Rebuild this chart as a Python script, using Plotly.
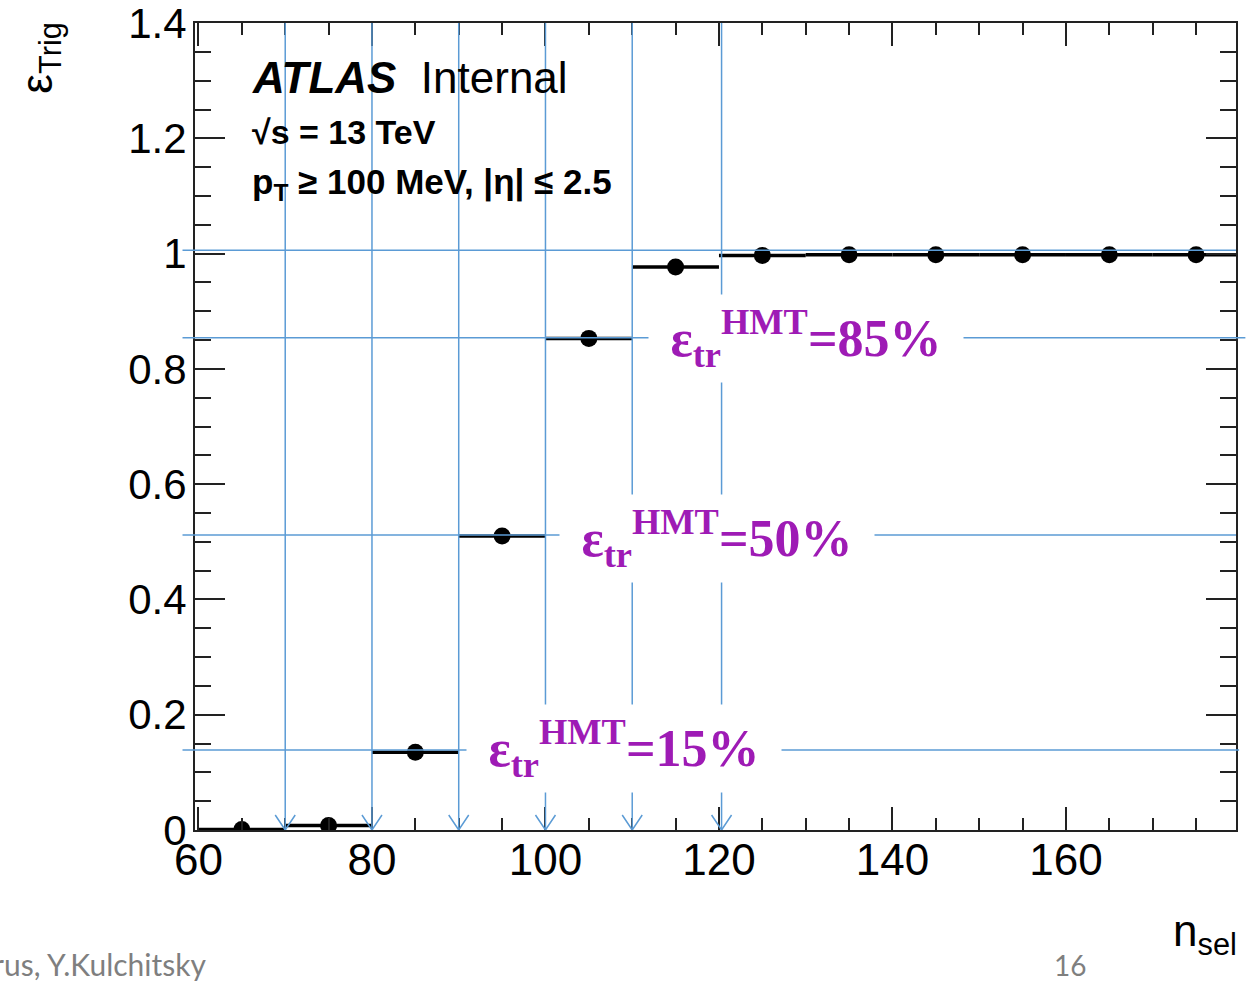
import plotly.graph_objects as go

# ---- data ----
bin_centers = [65, 75, 85, 95, 105, 115, 125, 135, 145, 155, 165, 175]
efficiency = [0.001, 0.008, 0.135, 0.510, 0.853, 0.977, 0.997, 0.998, 0.998, 0.998, 0.998, 0.998]
bin_half_width = [5] * len(bin_centers)

vline_x = [70, 80, 90, 100, 110, 120.3]
hline_levels = [1.006, 0.854, 0.512, 0.139]
hline_right = [1.0, 1.009, 1.0, 1.003]

label_pct = [85, 50, 15]
label_x = [130, 119.8, 109.1]
label_y = [0.853, 0.506, 0.141]

x_tick_vals = [60, 80, 100, 120, 140, 160]
x_tick_text = ["60", "80", "100", "120", "140", "160"]
y_tick_vals = [0, 0.2, 0.4, 0.6, 0.8, 1.0, 1.2, 1.4]
y_tick_text = ["0", "0.2", "0.4", "0.6", "0.8", "1", "1.2", "1.4"]

BLUE = "#5B9BD5"
PURPLE = "#9E1BB5"
SANS = "Liberation Sans, Arial, Helvetica, sans-serif"

fig = go.Figure()
fig.add_trace(go.Scatter(
    x=bin_centers, y=efficiency, mode="markers",
    marker=dict(color="black", size=17),
    error_x=dict(type="data", array=bin_half_width, color="black", thickness=3.5, width=0),
    showlegend=False, hoverinfo="skip",
))

shapes = []
for xv in vline_x:
    shapes.append(dict(type="line", xref="x", yref="y", x0=xv, x1=xv, y0=0, y1=1.4,
                       line=dict(color=BLUE, width=1.5), layer="above"))
    shapes.append(dict(type="path", xref="x", yref="y", xsizemode="pixel", ysizemode="pixel",
                       xanchor=xv, yanchor=0, path="M-10,15 L0,0 L10,15",
                       line=dict(color=BLUE, width=1.5), layer="above"))
for lv, rr in zip(hline_levels, hline_right):
    shapes.append(dict(type="line", xref="paper", yref="y", x0=-0.012, x1=rr, y0=lv, y1=lv,
                       line=dict(color=BLUE, width=1.5), layer="above"))

annotations = []
for pct, lx, ly in zip(label_pct, label_x, label_y):
    annotations.append(dict(
        x=lx, y=ly, xref="x", yref="y", xanchor="center", yanchor="middle",
        text=f"<b>ε<sub>tr</sub><sup>HMT</sup>={pct}%</b>", showarrow=False,
        font=dict(family="Liberation Serif, Times New Roman, serif", size=52, color=PURPLE),
        bgcolor="white", borderpad=0, width=314, height=87, align="center", valign="middle",
    ))

annotations += [
    dict(x=0.0528, y=0.932, xref="paper", yref="paper", xanchor="left", yanchor="middle",
         text="<b><i>ATLAS</i></b>&nbsp; Internal", showarrow=False,
         font=dict(family=SANS, size=44, color="black")),
    dict(x=0.0528, y=0.865, xref="paper", yref="paper", xanchor="left", yanchor="middle",
         text="<b>√s = 13 TeV</b>", showarrow=False,
         font=dict(family=SANS, size=34, color="black")),
    dict(x=0.0528, y=0.800, xref="paper", yref="paper", xanchor="left", yanchor="middle",
         text="<b>p<sub>T</sub> ≥ 100 MeV, |η| ≤ 2.5</b>", showarrow=False,
         font=dict(family=SANS, size=35, color="black")),
    dict(x=-0.149, y=1.004, xref="paper", yref="paper", xanchor="center", yanchor="top",
         text="ε<sub>Trig</sub>", textangle=-90, showarrow=False,
         font=dict(family=SANS, size=44, color="black")),
    dict(x=1.0, y=-0.092, xref="paper", yref="paper", xanchor="right", yanchor="top",
         text="n<sub>sel</sub>", showarrow=False, xshift=3,
         font=dict(family=SANS, size=44, color="black")),
    dict(x=0.0, y=-0.166, xref="paper", yref="paper", xanchor="right", yanchor="middle",
         xshift=13, text="rus, Y.Kulchitsky", showarrow=False,
         font=dict(family="Lato, Open Sans, sans-serif", size=30, color="#7f7f7f")),
    dict(x=0.8405, y=-0.167, xref="paper", yref="paper", xanchor="center", yanchor="middle",
         text="16", showarrow=False,
         font=dict(family="Lato, Open Sans, sans-serif", size=28, color="#7f7f7f")),
]

axis_common = dict(showline=True, linecolor="#222", linewidth=2, mirror="allticks",
                   ticks="inside", tickcolor="#222", tickwidth=1.5, automargin=False,
                   showgrid=False, zeroline=False, ticklabeloverflow="allow")

fig.update_layout(
    width=1246, height=982,
    margin=dict(l=195, r=10, t=23, b=152, autoexpand=False),
    plot_bgcolor="white", paper_bgcolor="white",
    shapes=shapes, annotations=annotations,
    xaxis=dict(range=[59.6, 179.6], tickmode="array", tickvals=x_tick_vals, ticktext=x_tick_text,
               ticklen=23, ticklabelstandoff=-10,
               tickfont=dict(family=SANS, size=44, color="black"),
               minor=dict(dtick=5, tick0=60, ticklen=12, ticks="inside", tickcolor="#222", tickwidth=1.5),
               **axis_common),
    yaxis=dict(range=[0, 1.4002], tickmode="array", tickvals=y_tick_vals, ticktext=y_tick_text,
               ticklen=30, ticklabelstandoff=-2,
               tickfont=dict(family=SANS, size=42, color="black"),
               minor=dict(dtick=0.05, tick0=0, ticklen=16, ticks="inside", tickcolor="#222", tickwidth=1.5),
               **axis_common),
)

fig.write_html("out.html")
